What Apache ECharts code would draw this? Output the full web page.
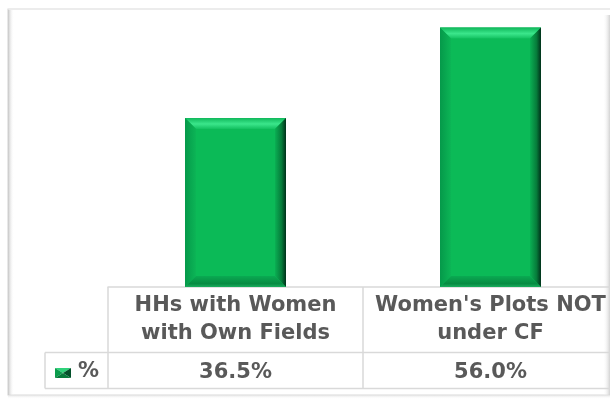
<!DOCTYPE html>
<html>
<head>
<meta charset="utf-8">
<script src="https://cdn.jsdelivr.net/npm/echarts@6/dist/echarts.min.js"></script>
<style>
  html, body { margin: 0; padding: 0; background: #ffffff; overflow: hidden; }
  /* the chart runs slightly past the right edge of the window, cutting off the last column */
  #chart { width: 620px; height: 404px; }
</style>
</head>
<body>
<div id="chart"></div>
<script>
// Categories and values shown in the bar chart and its data table
var categories = ['HHs with Women\nwith Own Fields', "Women's Plots NOT\nunder CF"];
var seriesName = '%';
var values = [36.5, 56.0];
var valueLabels = values.map(function (v) { return v.toFixed(1) + '%'; });

var FONT = '"DejaVu Sans", "Liberation Sans", sans-serif';
var FSIZE = 21;
var TEXT = '#595959';
var LINE = '#D9D9D9';

var chart = echarts.init(document.getElementById('chart'), null, { renderer: 'canvas' });

function lin(x0, y0, x1, y1, stops) {
  return new echarts.graphic.LinearGradient(x0, y0, x1, y1,
    stops.map(function (s) { return { offset: s[0], color: s[1] }; }));
}

// Bevelled bar: a flat face with four sloped edges
function renderBevelBar(params, api) {
  var idx = api.value(0);
  var top = api.coord([idx, api.value(1)]);
  var base = api.coord([idx, 0]);
  var w = api.size([1, 0])[0] * 0.396;
  var x = top[0] - w / 2, y = top[1], h = base[1] - top[1];
  var b = Math.min(11, w / 4, h / 4);
  var r = x + w, btm = y + h;
  return {
    type: 'group',
    children: [
      { type: 'rect', shape: { x: x, y: y, width: w, height: h }, style: { fill: '#0BBA57' } },
      { type: 'polygon', shape: { points: [[x, y], [r, y], [r - b, y + b], [x + b, y + b]] },
        style: { fill: lin(0, 0, 0, 1, [[0, '#0FB75A'], [0.55, '#3BE68B'], [1, '#14C161']]) } },
      { type: 'polygon', shape: { points: [[x, y], [x + b, y + b], [x + b, btm - b], [x, btm]] },
        style: { fill: lin(0, 0, 1, 0, [[0, '#05994A'], [1, '#0CB556']]) } },
      { type: 'polygon', shape: { points: [[r, y], [r, btm], [r - b, btm - b], [r - b, y + b]] },
        style: { fill: lin(0, 0, 1, 0, [[0, '#0AAF53'], [0.6, '#067B3A'], [1, '#00301A']]) } },
      { type: 'polygon', shape: { points: [[x, btm], [r, btm], [r - b, btm - b], [x + b, btm - b]] },
        style: { fill: lin(0, 0, 0, 1, [[0, '#0AAA52'], [0.7, '#078B42'], [1, '#1AAE5E']]) } }
    ]
  };
}

var option = {
  animation: false,
  backgroundColor: '#ffffff',
  grid: { left: 108, right: 2, top: 9, bottom: 117, containLabel: false },
  xAxis: [
    {
      type: 'category',
      data: categories,
      position: 'bottom',
      axisLine: { show: true, lineStyle: { color: LINE, width: 1.5 } },
      axisTick: { show: true, length: 101.5, inside: false, lineStyle: { color: LINE, width: 1.5 } },
      axisLabel: {
        margin: 5,
        fontFamily: FONT, fontSize: FSIZE, fontWeight: 'bold', color: TEXT,
        lineHeight: 28, interval: 0, align: 'center'
      }
    },
    {
      type: 'category',
      data: valueLabels,
      position: 'bottom',
      axisLine: { show: false },
      axisTick: { show: false },
      axisLabel: {
        margin: 76,
        fontFamily: FONT, fontSize: FSIZE, fontWeight: 'bold', color: TEXT,
        lineHeight: 20, interval: 0
      }
    }
  ],
  yAxis: {
    type: 'value', min: 0, max: 60, show: false,
    splitLine: { show: false }
  },
  series: [{
    name: seriesName,
    type: 'custom',
    xAxisIndex: 0,
    renderItem: renderBevelBar,
    encode: { x: 0, y: 1 },
    data: values.map(function (v, i) { return [i, v]; })
  }]
};

chart.setOption(option);

// Data table rules and the outer frame, placed from the axis scale
var p0 = chart.convertToPixel({ xAxisIndex: 0, yAxisIndex: 0 }, [0, 0]);
var baseY = p0[1];
var bandW = chart.getModel().getComponent('xAxis', 0).axis.getBandWidth();
var leftX = p0[0] - bandW / 2;
var rightX = leftX + bandW * categories.length;
var rowY = baseY + 65.5, endY = baseY + 101.5, legendX = 45;

chart.setOption({
  graphic: [
    // frame
    { type: 'rect', shape: { x: 8, y: 9, width: 620, height: 386 }, style: { fill: 'none', stroke: '#DADADA', lineWidth: 1.2 }, silent: true },
    { type: 'rect', shape: { x: 8, y: 10, width: 6, height: 385 }, style: { fill: lin(0, 0, 1, 0, [[0, '#C8C8C8'], [1, 'rgba(255,255,255,0)']]) }, silent: true },
    { type: 'rect', shape: { x: 603, y: 15, width: 7, height: 380 }, style: { fill: lin(0, 0, 1, 0, [[0, 'rgba(255,255,255,0)'], [1, '#D2D2D2']]) }, silent: true },
    { type: 'rect', shape: { x: 8, y: 395, width: 602, height: 4 }, style: { fill: lin(0, 0, 0, 1, [[0, '#E2E2E2'], [1, 'rgba(255,255,255,0)']]) }, silent: true },
    // table rows
    { type: 'line', shape: { x1: legendX, y1: rowY, x2: rightX, y2: rowY }, style: { stroke: LINE, lineWidth: 1.5 }, silent: true },
    { type: 'line', shape: { x1: legendX, y1: endY, x2: rightX, y2: endY }, style: { stroke: LINE, lineWidth: 1.5 }, silent: true },
    { type: 'line', shape: { x1: legendX, y1: rowY, x2: legendX, y2: endY }, style: { stroke: LINE, lineWidth: 1.5 }, silent: true },
    // legend key
    { type: 'polygon', shape: { points: [[55, 368], [71, 368], [63, 373]] }, style: { fill: '#2FD27A' }, silent: true },
    { type: 'polygon', shape: { points: [[55, 368], [63, 373], [55, 378]] }, style: { fill: '#0A9C4C' }, silent: true },
    { type: 'polygon', shape: { points: [[71, 368], [71, 378], [63, 373]] }, style: { fill: '#03502A' }, silent: true },
    { type: 'polygon', shape: { points: [[55, 378], [71, 378], [63, 373]] }, style: { fill: '#077A3B' }, silent: true },
    { type: 'text', x: 78, y: (rowY + endY) / 2 + 1, style: { text: seriesName, font: 'bold ' + FSIZE + 'px ' + FONT, fill: TEXT, verticalAlign: 'middle' }, silent: true }
  ]
});
</script>
</body>
</html>
